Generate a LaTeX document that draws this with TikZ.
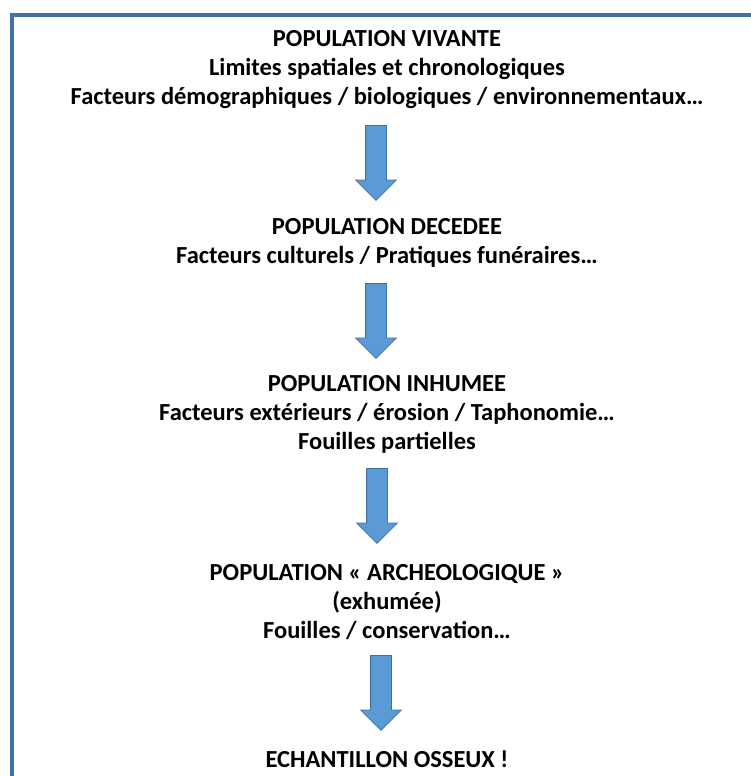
\documentclass[tikz,border=0pt]{standalone}
\usepackage{fontspec}
\setmainfont{Carlito}
\usetikzlibrary{shapes}

\definecolor{frameblue}{RGB}{68,114,160}
\definecolor{arrowfill}{RGB}{91,155,213}
\definecolor{arrowline}{RGB}{65,113,156}

\begin{document}
\begin{tikzpicture}[x=1pt, y=-1pt,
    stage/.style={align=center, inner sep=0pt, font=\fontsize{24.5}{29}\selectfont\bfseries},
    downarrow/.style={single arrow, draw=arrowline, fill=arrowfill, line width=0.8pt, shape border rotate=270, minimum height=75pt, inner sep=10pt, single arrow head extend=10pt, single arrow head indent=0pt, anchor=tail}]

    \useasboundingbox (0,0) rectangle (751,776);

    % Frame
    \draw[frameblue, line width=4pt] (751,15) -| (12,776);

    % Stages
    \node[stage] (vivante) at (387,69.5) {POPULATION VIVANTE\\Limites spatiales et chronologiques\\Facteurs démographiques / biologiques / environnementaux…};
    \node[stage] (decedee) at (387,243) {POPULATION DECEDEE\\Facteurs culturels / Pratiques funéraires…};
    \node[stage] (inhumee) at (387,414) {POPULATION INHUMEE\\Facteurs extérieurs / érosion / Taphonomie…\\Fouilles partielles};
    \node[stage] (archeo) at (387,602) {POPULATION « ARCHEOLOGIQUE »\\(exhumée)\\Fouilles / conservation…};
    \node[stage] (osseux) at (387,759) {ECHANTILLON OSSEUX !};

    % Arrows
    \node[downarrow] (fleche1) at (376,125) {};
    \node[downarrow] (fleche2) at (376,283) {};
    \node[downarrow] (fleche3) at (377,468) {};
    \node[downarrow] (fleche4) at (381,655) {};

\end{tikzpicture}
\end{document}
